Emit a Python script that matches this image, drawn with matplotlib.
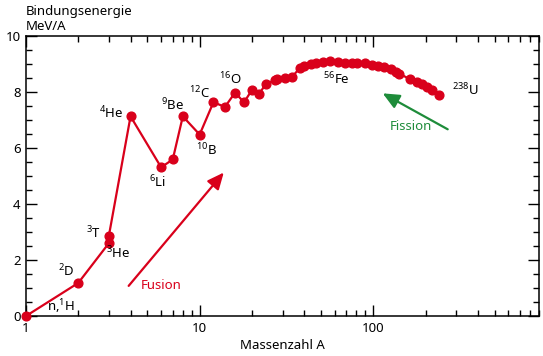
import numpy as np
import matplotlib.pyplot as plt
from matplotlib.ticker import MultipleLocator, FixedLocator, FixedFormatter, NullFormatter

plt.rcParams['font.family'] = ['Noto Sans', 'DejaVu Sans']
plt.rcParams['mathtext.fontset'] = 'custom'
plt.rcParams['mathtext.rm'] = 'Noto Sans'
plt.rcParams['mathtext.it'] = 'Noto Sans:italic'

# Massenzahl und Bindungsenergie pro Nukleon
massenzahl = [1, 2, 3, 3, 4, 6, 7, 8, 10, 12, 14, 16, 18, 20, 22, 24, 27, 28, 31, 34,
              38, 40, 44, 47, 51, 56, 63, 69, 75, 81, 89, 98, 106, 115, 126, 136, 141,
              162, 179, 191, 204, 218, 238]
energie = [0, 1.18, 2.6, 2.86, 7.13, 5.31, 5.59, 7.13, 6.48, 7.63, 7.47, 7.98, 7.63, 8.07,
           7.93, 8.28, 8.42, 8.46, 8.5, 8.54, 8.87, 8.93, 8.99, 9.02, 9.07, 9.11, 9.07,
           9.05, 9.03, 9.02, 9.03, 8.96, 8.94, 8.9, 8.81, 8.72, 8.66, 8.46, 8.34, 8.29,
           8.17, 8.07, 7.88]

rot = '#d9001b'
gruen = '#1e8c3a'
dunkel = 'black'

fig = plt.figure(figsize=(5.43, 3.56), dpi=100)
ax = fig.add_axes([26/543, 40/356, 513/543, 280/356])

# Achsen zuerst einrichten
ax.set_xscale('log')
ax.set_xlim(1, 900)
ax.set_ylim(0, 10)
minor_x = [m * d for d in (1, 10, 100) for m in range(2, 10)]
ax.set_xticks([1, 10, 100])
ax.set_xticklabels(['1', '10', '100'])
ax.set_xticks(minor_x, minor=True)
ax.xaxis.set_minor_formatter(NullFormatter())
ax.yaxis.set_major_locator(MultipleLocator(2))
ax.yaxis.set_minor_locator(MultipleLocator(0.5))
ax.tick_params(axis='both', which='both', direction='in', top=True, right=True,
               bottom=True, left=True, color=dunkel, width=1)
ax.tick_params(axis='both', which='major', length=8, labelsize=9.5, pad=4)
ax.tick_params(axis='both', which='minor', length=4.5)
for s in ax.spines.values():
    s.set_linewidth(1.1)

ax.plot(massenzahl, energie, '-o', color=rot, lw=1.6, ms=6.3, mec=rot, zorder=3, clip_on=False)

ax.set_xlabel('Massenzahl A', fontsize=9.5, labelpad=3)
fig.text(26/543, 1 - 12/356, 'Bindungsenergie', fontsize=9.5, va='center')
fig.text(26/543, 1 - 27/356, 'MeV/A', fontsize=9.5, va='center')

# Beschriftungen der Nuklide
labels = [
    (r'n,$^{1}$H', 1.59, 0.32),
    (r'$^{2}$D', 1.70, 1.6),
    (r'$^{3}$T', 2.43, 2.95),
    (r'$^{3}$He', 3.4, 2.24),
    (r'$^{4}$He', 3.08, 7.26),
    (r'$^{6}$Li', 5.74, 4.77),
    (r'$^{9}$Be', 7.0, 7.54),
    (r'$^{10}$B', 10.96, 5.94),
    (r'$^{12}$C', 10.0, 7.97),
    (r'$^{16}$O', 15.06, 8.47),
    (r'$^{56}$Fe', 61.6, 8.47),
    (r'$^{238}$U', 337, 8.08),
]
for t, x, y in labels:
    ax.text(x, y, t, fontsize=9.5, ha='center', va='center')

# Pfeile
ax.annotate('', xy=(14.1, 5.2), xytext=(3.81, 1.0),
            arrowprops=dict(arrowstyle='-|>,head_length=1.0,head_width=0.45', color=rot, lw=1.6))
ax.text(5.97, 1.1, 'Fusion', fontsize=9.5, color=rot, fontweight='bold', ha='center', va='center')
ax.annotate('', xy=(109.7, 8.0), xytext=(277, 6.62),
            arrowprops=dict(arrowstyle='-|>,head_length=1.0,head_width=0.45', color=gruen, lw=1.6))
ax.text(165, 6.76, 'Fission', fontsize=9.5, color=gruen, fontweight='bold', ha='center', va='center')

fig.savefig('out.png', dpi=100)
